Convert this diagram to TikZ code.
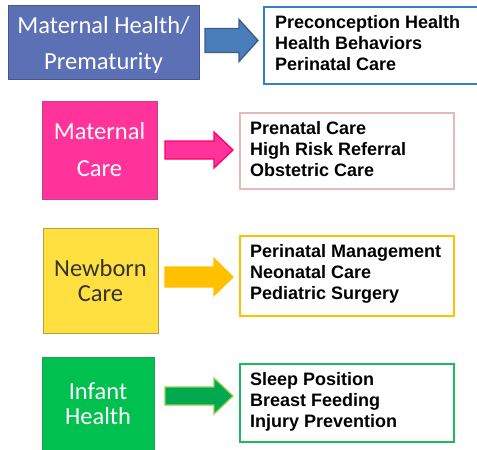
\documentclass[tikz,border=0pt]{standalone}
\usepackage{fontspec}
\setmainfont{Carlito}
\newfontfamily\listfont{Liberation Sans}
\definecolor{bluebox}{RGB}{92,112,182}
\definecolor{blueboxd}{RGB}{70,86,145}
\definecolor{bluearrow}{RGB}{74,126,187}
\definecolor{bluearrowd}{RGB}{56,93,138}
\definecolor{blueline}{RGB}{52,128,196}
\definecolor{pinkbox}{RGB}{255,51,153}
\definecolor{pinkboxd}{RGB}{190,70,130}
\definecolor{pinkarrowd}{RGB}{255,0,102}
\definecolor{pinkline}{RGB}{230,185,184}
\definecolor{yellowbox}{RGB}{255,224,64}
\definecolor{yellowboxd}{RGB}{180,160,70}
\definecolor{goldarrow}{RGB}{255,192,0}
\definecolor{greenbox}{RGB}{0,192,80}
\definecolor{greenboxd}{RGB}{30,160,80}
\definecolor{greenarrow}{RGB}{0,168,80}
\definecolor{lightgreen}{RGB}{146,208,80}
\definecolor{greenline}{RGB}{30,184,96}
\begin{document}
\begin{tikzpicture}[x=1pt,y=-1pt,
  catbox/.style={draw, line width=1pt, inner sep=0pt, align=center,
    font=\fontsize{24.5}{36}\selectfont},
  listbox/.style={draw, line width=1.8pt, inner sep=0pt, fill=white},
  listtext/.style={anchor=west, inner sep=0pt, align=left,
    font=\listfont\bfseries\fontsize{18}{21}\selectfont},
  blockarrow/.style={line width=1.3pt, line join=miter}
]
\useasboundingbox (0,0) rectangle (477,450);

% category boxes
\node[catbox, fill=bluebox, draw=blueboxd, minimum width=191pt, minimum height=74pt]
  (c1) at (103.5,42) {};
\node[text=white, align=center, inner sep=0pt, font=\fontsize{24.5}{36}\selectfont]
  (c1t) at (103.5,44.5) {Maternal Health/\\Prematurity};
\node[catbox, fill=pinkbox, draw=pinkboxd, text=white, minimum width=115pt, minimum height=98pt]
  (c2) at (99.5,150) {Maternal\\[1pt]Care};
\node[catbox, fill=yellowbox, draw=yellowboxd, text=black!80, minimum width=115pt, minimum height=105pt,
  font=\fontsize{24.5}{25}\selectfont]
  (c3) at (100.5,280.5) {Newborn\\Care};
\node[catbox, fill=greenbox, draw=greenboxd, text=white, minimum width=112pt, minimum height=93pt,
  font=\fontsize{24.5}{25}\selectfont]
  (c4) at (98,403.5) {Infant\\Health};

% list boxes
\node[listbox, draw=blueline, minimum width=218pt, minimum height=77pt] (l1) at (373,45.5) {};
\node[listbox, draw=pinkline, minimum width=214pt, minimum height=76pt] (l2) at (347,151) {};
\node[listbox, draw=goldarrow, minimum width=214pt, minimum height=80pt] (l3) at (347,276) {};
\node[listbox, draw=greenline, minimum width=214pt, minimum height=78pt] (l4) at (347,403) {};

\node[listtext] (t1) at (275,43.5) {Preconception Health\\Health Behaviors\\Perinatal Care};
\node[listtext] (t2) at (250,149.5) {Prenatal Care\\High Risk Referral\\Obstetric Care};
\node[listtext] (t3) at (250,274) {Perinatal Management\\Neonatal Care\\Pediatric Surgery};
\node[listtext] (t4) at (250,402) {Sleep Position\\Breast Feeding\\Injury Prevention};

% block arrows
\draw[blockarrow, fill=bluearrow, draw=bluearrowd]
  (205,28.5) -- (239,28.5) -- (239,19.5) -- (258,40.5) -- (239,61.5) -- (239,52.5) -- (205,52.5) -- cycle;
\draw[blockarrow, fill=pinkbox, draw=pinkarrowd]
  (165,141) -- (214,141) -- (214,132) -- (233,150) -- (214,168) -- (214,159) -- (165,159) -- cycle;
\draw[blockarrow, fill=goldarrow, draw=goldarrow]
  (165,267) -- (214,267) -- (214,258.5) -- (233,277) -- (214,295.5) -- (214,287) -- (165,287) -- cycle;
\draw[blockarrow, fill=greenarrow, draw=lightgreen]
  (165,387) -- (214,387) -- (214,378) -- (233,396) -- (214,414) -- (214,405) -- (165,405) -- cycle;
\end{tikzpicture}
\end{document}
